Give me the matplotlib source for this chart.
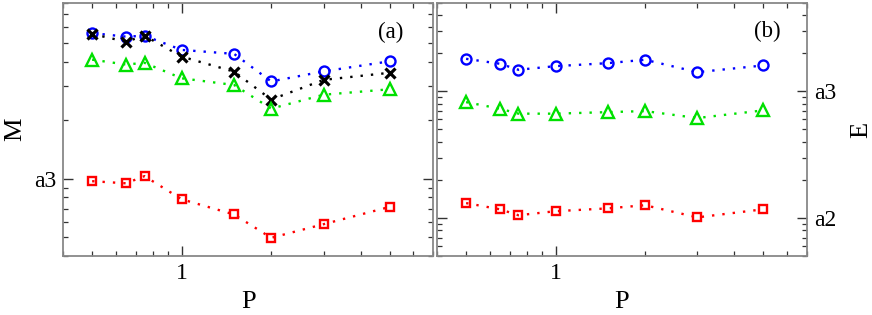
import matplotlib
matplotlib.use("Agg")
from matplotlib import pyplot as plt
from matplotlib.ticker import FixedLocator, FixedFormatter, NullFormatter, LogLocator
import numpy as np

plt.rcParams['font.family'] = ['Liberation Serif', 'DejaVu Serif']

# P values shared by both panels
p = [0.5, 0.65, 0.75, 1, 1.5, 2, 3, 5]

# panel (a): M
m_circle = [5600, 5370, 5430, 4590, 4380, 3160, 3560, 4010]
m_cross = [5540, 5060, 5430, 4240, 3550, 2550, 3220, 3500]
m_tri = [4090, 3860, 3940, 3280, 3030, 2290, 2700, 2880]
m_square = [970, 946, 1030, 783, 654, 496, 583, 715]

# panel (b): E
e_circle = [1810, 1654, 1483, 1584, 1673, 1779, 1420, 1604]
e_tri = [823, 730, 667, 667, 686, 699, 616, 708]
e_square = [131, 117, 105, 113, 119, 126, 101, 117]

a_ticks = [1000]
a_ticklabels = ['a3']
b_ticks = [100, 1000]
b_ticklabels = ['a2', 'a3']

blue = '#0000ff'
green = '#00e000'
red = '#ff0000'

fig = plt.figure(figsize=(8.72, 3.15), dpi=100)
ax1 = fig.add_axes([0.0726, 0.1873, 0.424, 0.8032])
ax2 = fig.add_axes([0.5015, 0.1873, 0.4236, 0.8032])

dot = (0, (1, 3.4))


def series(ax, y, color, marker, ms, mew=1.7):
    ax.plot(p, y, linestyle=dot, color=color, lw=1.7, marker=marker,
            ms=ms, mfc='none', mec=color, mew=mew)


series(ax1, m_circle, blue, 'o', 7.2)
series(ax1, m_cross, 'k', 'x', 6.5, 2.3)
series(ax1, m_tri, green, '^', 8.5)
series(ax1, m_square, red, 's', 6.2)

series(ax2, e_circle, blue, 'o', 7.2)
series(ax2, e_tri, green, '^', 8.5)
series(ax2, e_square, red, 's', 6.2)

for ax in (ax1, ax2):
    ax.set_xscale('log')
    ax.set_yscale('log')
    ax.set_xlim(0.4, 7)
    ax.xaxis.set_major_locator(FixedLocator([1]))
    ax.xaxis.set_minor_locator(LogLocator(base=10, subs=np.arange(2, 10)))
    ax.xaxis.set_major_formatter(FixedFormatter(['1']))
    ax.xaxis.set_minor_formatter(NullFormatter())
    ax.yaxis.set_minor_locator(LogLocator(base=10, subs=np.arange(2, 10)))
    ax.yaxis.set_minor_formatter(NullFormatter())
    ax.tick_params(which='both', direction='in', top=True, right=True,
                   left=True, bottom=True, color='#333333', labelsize=17)
    ax.tick_params(which='major', length=7, width=1.0, pad=5)
    ax.tick_params(which='minor', length=3.8, width=0.9)
    for s in ax.spines.values():
        s.set_color('#888888')
        s.set_linewidth(1.3)
    ax.set_xlabel('P', fontsize=19, labelpad=5)

ax1.set_ylim(400, 8000)
ax1.yaxis.set_major_locator(FixedLocator(a_ticks))
ax1.set_yticklabels(a_ticklabels)
ax1.set_ylabel('M', fontsize=19, labelpad=6)
ax1.text(0.885, 0.885, '(a)', transform=ax1.transAxes, fontsize=16.5,
         ha='center', va='center')

ax2.set_ylim(50, 5000)
ax2.yaxis.set_major_locator(FixedLocator(b_ticks))
ax2.set_yticklabels(b_ticklabels)
ax2.tick_params(axis='y', which='both', labelleft=False, labelright=True)
ax2.yaxis.set_label_position('right')
ax2.set_ylabel('E', fontsize=19, labelpad=10, rotation=90)
ax2.text(0.893, 0.887, '(b)', transform=ax2.transAxes, fontsize=16.5,
         ha='center', va='center')

fig.savefig('out.png', dpi=100)
